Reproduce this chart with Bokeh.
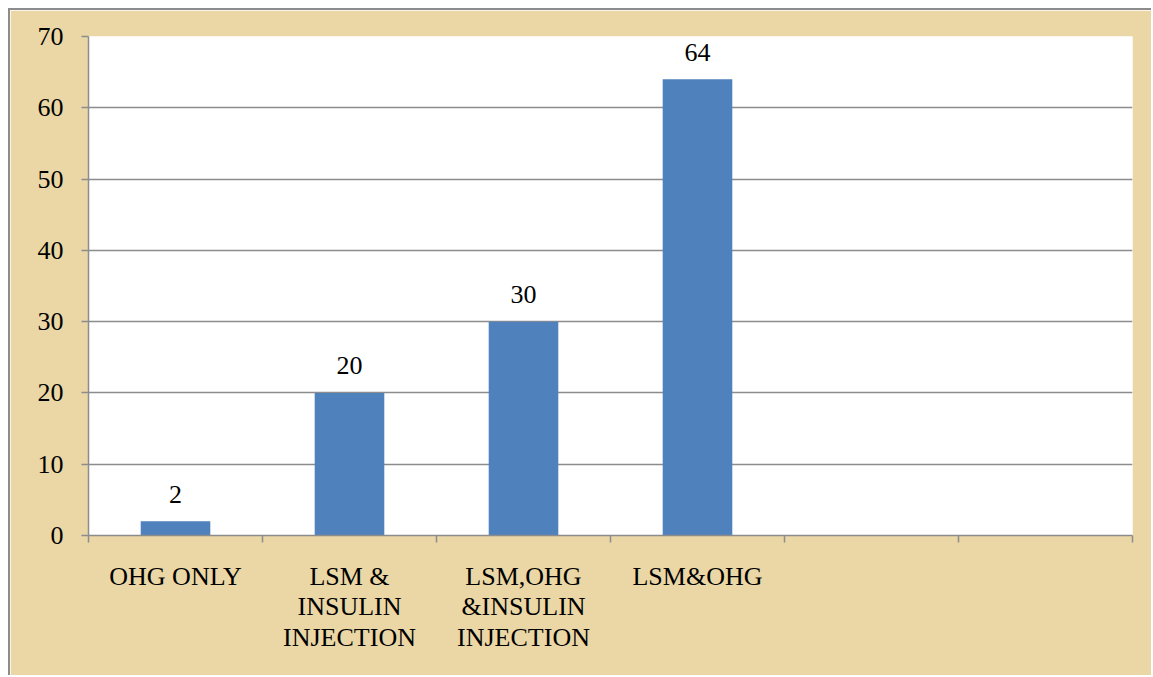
from bokeh.plotting import figure
from bokeh.models import FixedTicker, Range1d, ColumnDataSource
from bokeh.core.properties import value
from bokeh.embed import file_html
from bokeh.resources import INLINE

categories = ["OHG ONLY", "LSM &\nINSULIN\nINJECTION", "LSM,OHG\n&INSULIN\nINJECTION", "LSM&OHG", "", ""]
values = [2, 20, 30, 64]
y_ticks = [0, 10, 20, 30, 40, 50, 60, 70]

FONT = "Liberation Serif"
FSIZE = "26px"
GRAY = "#8c8c8c"
TAN = "#EAD7A5"

centers = [i + 0.5 for i in range(len(categories))]
bar_x = centers[:len(values)]
src = ColumnDataSource(dict(x=bar_x, top=values, label=[str(v) for v in values]))

p = figure(width=1143, height=667,
           x_range=Range1d(0, len(categories)), y_range=Range1d(0, 70),
           output_backend="svg", toolbar_location=None,
           min_border_left=78, min_border_top=26, min_border_right=21, min_border_bottom=142)
p.margin = (8, 0, 0, 8)
p.styles = {"border-left": f"2px solid {GRAY}", "border-top": f"2px solid {GRAY}"}
p.border_fill_color = TAN
p.background_fill_color = "white"
p.outline_line_color = None

p.vbar(x="x", top="top", width=0.4, bottom=0, source=src,
       fill_color="#4F81BD", line_color=None)
p.text(x="x", y="top", text="label", source=src, text_align="center",
       text_baseline="alphabetic", y_offset=-27,
       text_font=value(FONT), text_font_size=FSIZE, text_color="black")

p.xgrid.visible = False
p.ygrid.ticker = FixedTicker(ticks=y_ticks)
p.ygrid.grid_line_color = GRAY
p.ygrid.grid_line_width = 1.5

p.yaxis.ticker = FixedTicker(ticks=y_ticks)
p.yaxis.axis_line_color = GRAY
p.yaxis.axis_line_width = 1.5
p.yaxis.major_tick_line_color = GRAY
p.yaxis.major_tick_line_width = 1.5
p.yaxis.major_tick_in = 0
p.yaxis.major_tick_out = 7
p.yaxis.minor_tick_line_color = None
p.yaxis.major_label_standoff = 18
p.yaxis.major_label_text_font = FONT
p.yaxis.major_label_text_font_size = FSIZE
p.yaxis.major_label_text_color = "black"

p.xaxis.ticker = FixedTicker(ticks=centers, minor_ticks=list(range(len(categories) + 1)))
p.xaxis.major_label_overrides = {c: lab for c, lab in zip(centers, categories)}
p.xaxis.axis_line_color = GRAY
p.xaxis.axis_line_width = 1.5
p.xaxis.major_tick_line_color = None
p.xaxis.major_tick_in = 0
p.xaxis.major_tick_out = 0
p.xaxis.minor_tick_line_color = GRAY
p.xaxis.minor_tick_line_width = 1.5
p.xaxis.minor_tick_in = 0
p.xaxis.minor_tick_out = 7
p.xaxis.major_label_standoff = 19
p.xaxis.major_label_text_font = FONT
p.xaxis.major_label_text_font_size = FSIZE
p.xaxis.major_label_text_color = "black"
p.xaxis.major_label_text_line_height = 1.06

open("out.html", "w").write(file_html(p, INLINE))
